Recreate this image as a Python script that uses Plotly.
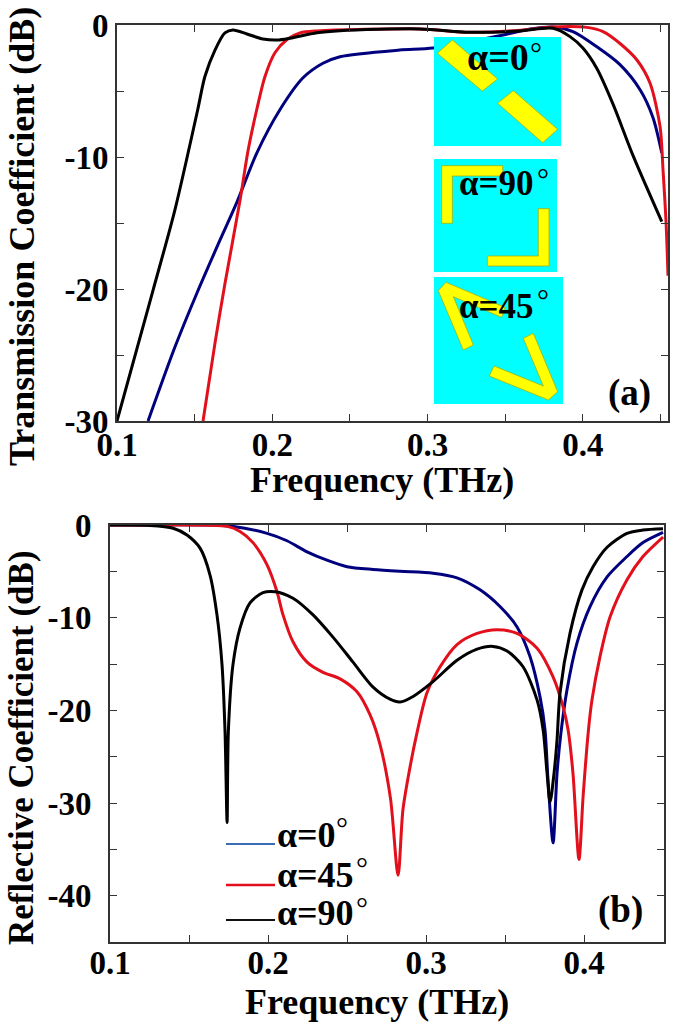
import plotly.graph_objects as go

W, H = 675, 1024

# panel (a): transmission
t_black_x = [0.1, 0.1232, 0.1373, 0.152, 0.1566, 0.1631, 0.1695, 0.1747, 0.1837, 0.194, 0.203, 0.2114, 0.2288, 0.2436, 0.295, 0.327, 0.3595, 0.3808, 0.3917, 0.4, 0.409, 0.4194, 0.4323, 0.4508]
t_black_y = [-30, -20.1, -14, -6.4, -3.9, -1.9, -0.6, -0.38, -0.68, -1.06, -1.14, -1, -0.58, -0.43, -0.3, -0.55, -0.45, -0.25, -0.88, -1.75, -3.3, -6, -9.9, -14.9]
t_red_x = [0.1554, 0.1631, 0.1695, 0.1792, 0.1844, 0.19, 0.1953, 0.2017, 0.2095, 0.2178, 0.2288, 0.295, 0.327, 0.36, 0.38, 0.4026, 0.413, 0.4239, 0.4348, 0.4432, 0.4497, 0.4516, 0.4535, 0.4548]
t_red_y = [-30, -24.1, -19.6, -13.3, -9.5, -6.4, -3.9, -2.1, -1.1, -0.6, -0.45, -0.3, -0.55, -0.4, -0.15, -0.18, -0.5, -1.4, -2.65, -4.4, -7.7, -11, -14.8, -19]
t_blue_x = [0.12, 0.1373, 0.1515, 0.1663, 0.1773, 0.19, 0.205, 0.2198, 0.2326, 0.2436, 0.282, 0.3035, 0.351, 0.366, 0.3808, 0.3936, 0.409, 0.4239, 0.4368, 0.4451, 0.4508]
t_blue_y = [-30, -24.4, -20.3, -16.3, -13.4, -9.7, -6.4, -4, -2.9, -2.4, -1.9, -1.75, -0.7, -0.3, -0.15, -0.5, -1.65, -3, -4.9, -7, -9.7]

# panel (b): reflection
r_black_x = [0.1, 0.1253, 0.14, 0.1487, 0.157, 0.1633, 0.1677, 0.1709, 0.1728, 0.1741, 0.1749, 0.1778, 0.1823, 0.1886, 0.1968, 0.2044, 0.2158, 0.2285, 0.2411, 0.2538, 0.2665, 0.2772, 0.2835, 0.2918, 0.3044, 0.3196, 0.3323, 0.3424, 0.3513, 0.3614, 0.3703, 0.3741, 0.3766, 0.3785, 0.381, 0.3829, 0.3848, 0.3911, 0.3987, 0.4057, 0.4146, 0.4272, 0.4373, 0.45]
r_black_y = [0, -0.05, -0.35, -1.08, -2.5, -5.4, -9.7, -15.1, -22.3, -32.1, -22.3, -15.1, -11.1, -8.4, -7.3, -7.2, -7.9, -9.7, -12.1, -14.8, -17.5, -18.8, -19.1, -18.5, -16.9, -14.6, -13.4, -13.1, -13.6, -15.3, -18.9, -22.1, -26.8, -29.9, -26.8, -23.2, -18.1, -11.7, -7, -4.5, -2.4, -0.9, -0.54, -0.4]
r_red_x = [0.1, 0.1253, 0.1741, 0.1823, 0.1905, 0.1994, 0.2057, 0.2095, 0.2158, 0.2247, 0.2348, 0.2456, 0.2563, 0.2646, 0.2709, 0.2775, 0.2823, 0.2854, 0.2899, 0.2943, 0.3006, 0.3089, 0.3196, 0.3323, 0.3449, 0.3576, 0.3703, 0.3804, 0.3867, 0.3899, 0.393, 0.3968, 0.3994, 0.4028, 0.405, 0.4101, 0.4165, 0.4272, 0.4373, 0.45]
r_red_y = [0, 0, -0.15, -0.7, -1.9, -4.3, -7.2, -9.7, -12.6, -14.8, -15.9, -16.6, -18, -20.5, -23.7, -29.5, -37.8, -30.7, -26.1, -22.4, -18.1, -15.3, -12.9, -11.7, -11.3, -11.7, -13.3, -16.4, -19.6, -22.1, -26.8, -36.1, -29.3, -22.1, -18.9, -14.2, -9.9, -5.9, -3.4, -1.3]
r_blue_x = [0.1, 0.16, 0.1778, 0.1994, 0.212, 0.2247, 0.2373, 0.25, 0.2665, 0.2835, 0.3044, 0.3196, 0.3342, 0.3468, 0.3576, 0.3658, 0.3722, 0.3753, 0.3772, 0.3804, 0.3829, 0.3854, 0.3892, 0.3956, 0.4038, 0.4146, 0.4272, 0.4373, 0.45]
r_blue_y = [0, 0, -0.15, -0.9, -1.7, -2.9, -3.8, -4.5, -4.8, -5, -5.2, -5.7, -7, -8.8, -11, -14.2, -18.6, -22.1, -27.5, -34.3, -26.8, -22.4, -17.8, -12.7, -8.8, -5.6, -3.4, -1.9, -0.8]

x_ticks = [0.1, 0.15, 0.2, 0.25, 0.3, 0.35, 0.4, 0.45]
x_labels = ["0.1", "", "0.2", "", "0.3", "", "0.4", ""]
t_y_ticks = [0, -5, -10, -15, -20, -25, -30]
t_y_labels = ["0", "", "-10", "", "-20", "", "-30"]
r_y_ticks = [0, -5, -10, -15, -20, -25, -30, -35, -40, -45]
r_y_labels = ["0", "", "-10", "", "-20", "", "-30", "", "-40", ""]

BLUE = "#00007f"
RED = "#e2101c"
BLACK = "#000000"
SERIF = "Liberation Serif"


def px(x):
    return x / W


def py(y):
    return 1 - y / H


def poly(points, fill, line):
    # points are in page pixels, insets are pasted drawings and not data
    path = "M " + " L ".join(f"{px(a)},{py(b)}" for a, b in points) + " Z"
    return dict(type="path", path=path, xref="paper", yref="paper", layer="above",
                fillcolor=fill, line=dict(color=line, width=0.7))


def zoomed(points):
    return [(420 + a / 3, 20 + b / 3) for a, b in points]


def label(x, y, text, size=37, bold=True, anchor="left", angle=0):
    weight = "<b>%s</b>" % text if bold else text
    return dict(x=px(x), y=py(y), xref="paper", yref="paper", text=weight, showarrow=False, textangle=angle,
                xanchor=anchor, yanchor="middle", font=dict(family=SERIF, size=size, color="black"))


fig = go.Figure()
for xs, ys, color in [(t_blue_x, t_blue_y, BLUE), (t_red_x, t_red_y, RED), (t_black_x, t_black_y, BLACK)]:
    fig.add_trace(go.Scatter(x=xs, y=ys, mode="lines", line=dict(color=color, width=3, shape="spline", smoothing=0.8),
                             xaxis="x", yaxis="y", showlegend=False))
for xs, ys, color in [(r_blue_x, r_blue_y, BLUE), (r_red_x, r_red_y, RED), (r_black_x, r_black_y, BLACK)]:
    fig.add_trace(go.Scatter(x=xs, y=ys, mode="lines", line=dict(color=color, width=3, shape="spline", smoothing=0.8),
                             xaxis="x2", yaxis="y2", showlegend=False))

axis_style = dict(showline=True, linecolor="#333333", linewidth=1.6, mirror="ticks", ticks="inside",
                  ticklen=7, tickwidth=1.2, tickcolor="#333333", showgrid=False, zeroline=False, automargin=False,
                  tickfont=dict(family=SERIF, size=33, color="black", weight="bold"))

shapes = [
    dict(type="rect", xref="paper", yref="paper", layer="above", x0=px(434), x1=px(561), y0=py(146), y1=py(37),
         fillcolor="#00ffff", line=dict(width=0)),
    dict(type="rect", xref="paper", yref="paper", layer="above", x0=px(434), x1=px(557), y0=py(272), y1=py(159),
         fillcolor="#00ffff", line=dict(width=0)),
    dict(type="rect", xref="paper", yref="paper", layer="above", x0=px(434), x1=px(563), y0=py(404), y1=py(277),
         fillcolor="#00ffff", line=dict(width=0)),
]
yellow_parts = [
    [(52, 100), (97, 60), (233, 177), (187, 213)],
    [(233, 250), (280, 212), (413, 328), (368, 368)],
    [(65, 437), (248, 437), (248, 468), (97, 468), (97, 610), (65, 610)],
    [(355, 566), (387, 566), (387, 738), (202, 738), (202, 708), (355, 708)],
    [(55, 812), (78, 787), (255, 862), (245, 892), (100, 830), (160, 975), (130, 990)],
    [(310, 955), (340, 940), (413, 1115), (385, 1140), (208, 1068), (222, 1038), (370, 1098)],
]
for part in yellow_parts:
    shapes.append(poly(zoomed(part), "#ffff00", "#a8a800"))

# legend keys sit under the text baseline and use a lighter blue than the curves
for y, color, width in [(844, "#3a6cb4", 2), (885, "#e2101c", 2.5), (920, "#111111", 2)]:
    shapes.append(dict(type="line", xref="paper", yref="paper", x0=px(226), x1=px(275), y0=py(y), y1=py(y),
                       line=dict(color=color, width=width)))

annotations = [
    label(465, 57, "α=0", 38), label(528, 52, "°", 30, False),
    label(457, 183, "α=90", 35), label(535, 178, "°", 30, False),
    label(457, 306, "α=45", 35), label(535, 299, "°", 30, False),
    label(606, 393, "(a)"), label(596, 910, "(b)"),
    label(275, 835, "α=0", 36), label(334, 827, "°", 30, False),
    label(275, 875, "α=45", 36), label(354, 867, "°", 30, False),
    label(275, 913, "α=90", 36), label(354, 907, "°", 30, False),
    # axis titles placed by hand, they do not sit centred on their axes
    label(382, 480, "Frequency (THz)", 36, anchor="center"),
    label(377, 1002, "Frequency (THz)", 36, anchor="center"),
    label(22, 237, "Transmission Coefficient (dB)", 36, anchor="center", angle=-90),
    label(21, 748, "Reflective Coefficient (dB)", 35, anchor="center", angle=-90),
]

fig.update_layout(
    width=W, height=H, margin=dict(l=0, r=0, t=0, b=0), paper_bgcolor="white", plot_bgcolor="white",
    shapes=shapes, annotations=annotations,
    xaxis=dict(axis_style, domain=[px(117), px(668)], range=[0.1, 0.4548], tickvals=x_ticks, ticktext=x_labels,
               anchor="y", ticklabelstandoff=-6),
    yaxis=dict(axis_style, domain=[py(421), py(25)], range=[-30, 0], tickvals=t_y_ticks, ticktext=t_y_labels,
               anchor="x"),
    xaxis2=dict(axis_style, domain=[px(110), px(664)], range=[0.1, 0.4506], tickvals=x_ticks, ticktext=x_labels,
                anchor="y2", ticklabelstandoff=-9),
    yaxis2=dict(axis_style, domain=[py(942), py(525)], range=[-45, 0], tickvals=r_y_ticks, ticktext=r_y_labels,
                anchor="x2", ticklabelstandoff=10),
)

fig.write_html("out.html", config=dict(displayModeBar=False), post_script="document.body.style.margin='0';")
